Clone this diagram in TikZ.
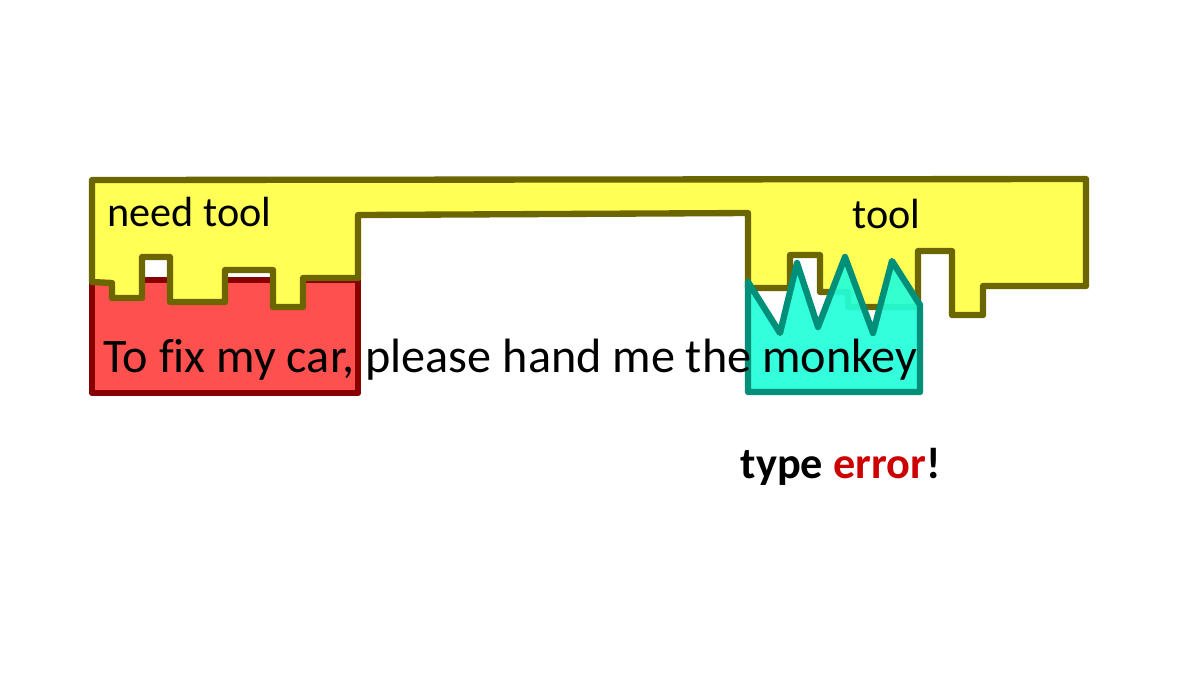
\documentclass[tikz,border=0pt]{standalone}
\usepackage{fontspec}
\setmainfont[Ligatures=NoCommon]{Carlito}
\definecolor{toolfill}{HTML}{FFFF55}
\definecolor{tooldraw}{HTML}{6B6600}
\definecolor{carfill}{HTML}{FF5050}
\definecolor{cardraw}{HTML}{880000}
\definecolor{monkeyfill}{HTML}{22FFDA}
\definecolor{monkeydraw}{HTML}{008F78}
\definecolor{errred}{HTML}{CC0000}
\tikzset{
  piece/.style={line width=1.8pt,line join=round},
  label/.style={inner sep=0pt,anchor=base west,font=\fontsize{12}{14}\selectfont}
}
\begin{document}
\begin{tikzpicture}[x=0.01cm,y=-0.01cm]
\useasboundingbox (0,0) rectangle (1200,675);
\draw[piece,fill=carfill,draw=cardraw] (92,280) rectangle (358,393);
\draw[piece,fill=toolfill,draw=tooldraw]
  (92,180) -- (1086,179) -- (1086,286) -- (983,286) -- (983,315) -- (952,315)
  -- (952,251) -- (918,251) -- (918,307) -- (848,307) -- (848,292) -- (820,292)
  -- (820,255) -- (790,255) -- (790,288) -- (748,288) -- (748,213) -- (358,215)
  -- (358,278) -- (303,278) -- (303,307) -- (273,307) -- (273,270) -- (225,270)
  -- (225,302) -- (170,302) -- (170,257) -- (142,257) -- (142,298) -- (112,298)
  -- (112,283) -- (92,282) -- cycle;
\draw[piece,fill=monkeyfill,fill opacity=0.92,draw=monkeydraw]
  (748,282) -- (780,333) -- (797,263) -- (818,327) -- (845,257) -- (873,333)
  -- (892,261) -- (920,305) -- (920,392) -- (748,392) -- cycle;
\node[label] (need) at (107,226) {need tool};
\node[label] (tool) at (852,228) {tool};
\node[label,font=\fontsize{13.7}{16}\selectfont] (sentence) at (103,372)
  {To fix my car, please hand me the monkey};
\node[label,font=\fontsize{12.6}{15}\selectfont\bfseries] (error) at (740,478)
  {type \textcolor{errred}{error}!};
\end{tikzpicture}
\end{document}
